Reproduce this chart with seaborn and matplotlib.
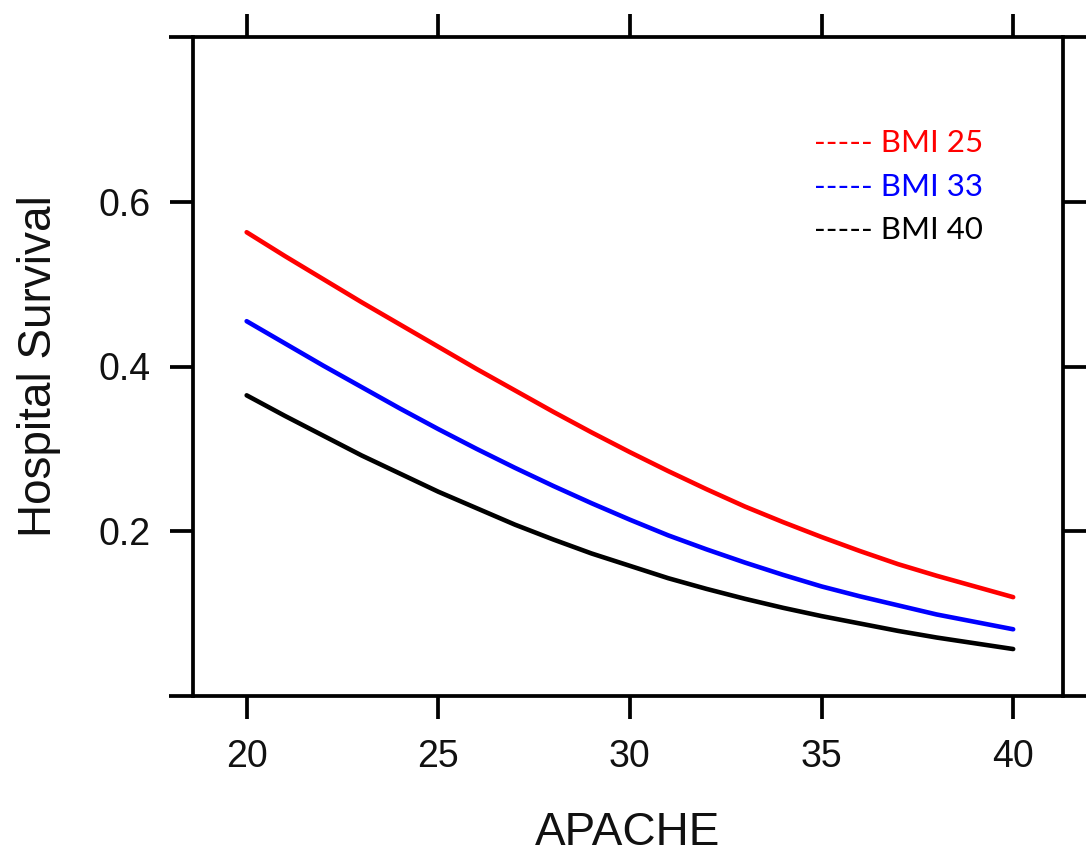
import matplotlib
matplotlib.use("Agg")
import matplotlib.pyplot as plt
import seaborn as sns
import pandas as pd
from matplotlib.lines import Line2D

# ---- data ----
apache = [20, 21, 22, 23, 24, 25, 26, 27, 28, 29, 30,
          31, 32, 33, 34, 35, 36, 37, 38, 39, 40]
bmi25 = [0.563, 0.534, 0.506, 0.478, 0.451, 0.424, 0.397, 0.371, 0.345, 0.320, 0.296,
         0.273, 0.251, 0.230, 0.211, 0.193, 0.176, 0.160, 0.146, 0.133, 0.120]
bmi33 = [0.455, 0.428, 0.401, 0.375, 0.349, 0.324, 0.300, 0.277, 0.255, 0.234, 0.214,
         0.195, 0.178, 0.162, 0.147, 0.133, 0.121, 0.110, 0.099, 0.090, 0.081]
bmi40 = [0.365, 0.340, 0.316, 0.292, 0.270, 0.248, 0.228, 0.208, 0.190, 0.173, 0.158,
         0.143, 0.130, 0.118, 0.107, 0.097, 0.088, 0.079, 0.071, 0.064, 0.057]
series_names = ["BMI 25", "BMI 33", "BMI 40"]
series_colors = ["#FF0000", "#0000FF", "#000000"]
x_ticks = [20, 25, 30, 35, 40]
y_ticks = [0.2, 0.4, 0.6]
x_label = "APACHE"
y_label = "Hospital Survival"

df = pd.DataFrame({
    "APACHE": apache * 3,
    "Survival": bmi25 + bmi33 + bmi40,
    "BMI": [series_names[0]] * len(apache) + [series_names[1]] * len(apache) + [series_names[2]] * len(apache),
})

sns.set_style("white")
plt.rcParams["font.family"] = ["Liberation Sans", "DejaVu Sans"]

fig = plt.figure(figsize=(10.86, 8.57), dpi=100)
L, R, T, B = 193, 1063, 37, 696
W, H = 1086, 857
ax = fig.add_axes([L / W, 1 - B / H, (R - L) / W, (B - T) / H])

sns.lineplot(data=df, x="APACHE", y="Survival", hue="BMI",
             palette=dict(zip(series_names, series_colors)),
             linewidth=3.3, legend=False, ax=ax, solid_capstyle="round")

ax.set_xlim(18.6, 41.3)
ax.set_ylim(0.0, 0.8)
ax.set_xticks(x_ticks)
ax.set_xticklabels([str(v) for v in x_ticks])
ax.set_yticks(y_ticks)
ax.set_yticklabels([f"{v:.1f}" for v in y_ticks])

lw = 2.7
for s in ["top", "bottom"]:
    ax.spines[s].set_visible(False)
for s in ["left", "right"]:
    ax.spines[s].set_visible(True)
    ax.spines[s].set_linewidth(lw)
    ax.spines[s].set_color("black")

x0 = (169 - L) / (R - L)
x1 = (1086 - L) / (R - L)
for yy in (0, 1):
    ax.add_line(Line2D([x0, x1], [yy, yy], transform=ax.transAxes,
                       color="black", linewidth=lw, clip_on=False,
                       solid_capstyle="butt"))

ax.tick_params(axis="both", which="major", direction="out", length=16.8,
               width=lw, color="black", top=True, right=True,
               bottom=True, left=True, labeltop=False, labelright=False,
               labelsize=27, labelcolor="#111111", pad=14)

ax.set_xlabel(x_label, fontsize=33, labelpad=26, color="#111111")
ax.set_ylabel(y_label, fontsize=33, labelpad=27, color="#111111")

# legend as coloured text
leg_y = [(B - 143) / (B - T), (B - 187) / (B - T), (B - 230) / (B - T)]
leg_x = (814 - L) / (R - L)
for name, col, yy in zip(series_names, series_colors, leg_y):
    ax.text(leg_x, yy, "----- " + name, transform=ax.transAxes,
            color=col, fontsize=22.5, family=["Lato", "DejaVu Sans"],
            ha="left", va="center")

fig.savefig("out.png", dpi=100)
